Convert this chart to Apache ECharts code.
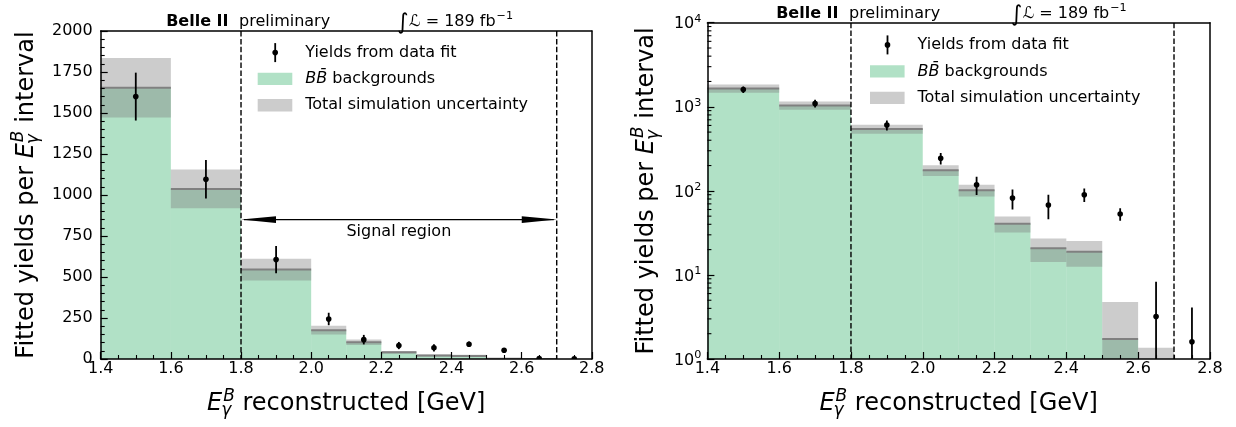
<!DOCTYPE html>
<html><head><meta charset="utf-8">
<script src="https://cdn.jsdelivr.net/npm/echarts@6/dist/echarts.min.js"></script>
<style>html,body{margin:0;padding:0;background:#fff;}#chart{width:1236px;height:427px;}</style>
</head><body><div id="chart"></div>
<script>
// ---------------- data ----------------
const binLow   = [1.4, 1.6, 1.8, 2.0, 2.1, 2.2, 2.3, 2.4, 2.5, 2.6];
const binHigh  = [1.6, 1.8, 2.0, 2.1, 2.2, 2.3, 2.4, 2.5, 2.6, 2.7];
const bbYield  = [1654, 1037, 545, 176, 102, 40.7, 20.7, 18.9, 1.73, 0.2];
const simUnc   = [181, 118, 67, 26, 16.5, 8.8, 6.5, 6.4, 3.03, 1.16];
const dataX    = [1.5, 1.7, 1.9, 2.05, 2.15, 2.25, 2.35, 2.45, 2.55, 2.65, 2.75];
const dataY    = [1600, 1096, 606, 244, 118, 82, 68, 90, 53, 3.2, 1.6];
const dataErr  = [146, 118, 83, 38, 29, 22, 22, 16.5, 9, 5.1, 2.5];
const signalRegion = [1.8, 2.7];
const xRange   = [1.4, 2.8];
const xStep    = 0.2;
const yLinRange = [0, 2000];
const yLinStep  = 250;
const yLogRange = [1, 10000];
const logMinorMantissa = [2, 3, 4, 5, 6, 7, 8, 9];
const logDecades = [1, 10, 100, 1000];
const legendLabels = ['Yields from data fit', 'BB\u0304', ' backgrounds', 'Total simulation uncertainty'];
const signalLabel = 'Signal region';
const experimentLabel = 'Belle II';
const statusLabel = 'preliminary';
const lumiValue = '189';

// ---------------- style ----------------
const FAM = '"DejaVu Sans"';
const GREEN = 'rgba(60,179,113,0.4)';
const GREY = 'rgba(128,128,128,0.4)';
const BBLINE = '#808080';
const ARROW_LEVEL = 850;
const LUMI_X = 2.245;
const GRIDS = [
  {left: 100.7, top: 31, width: 491.1, height: 328},
  {left: 707.4, top: 22.7, width: 502.5, height: 336.3}
];

const mctx = document.createElement('canvas').getContext('2d');
function tw(t, font) { mctx.font = font; return mctx.measureText(t).width; }
function txt(t, x, y, font, align) {
  return {type: 'text', x: x, y: y, style: {text: t, font: font, fill: '#000',
    align: align || 'left', verticalAlign: 'middle', textAlign: align || 'left', textVerticalAlign: 'middle'}};
}

const binItems = binLow.map((lo, i) => [lo, binHigh[i], bbYield[i], simUnc[i]]);
const pointItems = dataX.map((x, i) => [x, dataY[i], dataErr[i]]);
const minorLogItems = [];
logDecades.forEach(d => logMinorMantissa.forEach(m => minorLogItems.push([m * d])));

const clampFor = isLog => (v => isLog ? Math.max(v, 1e-3) : v);

function histRender(isLog) {
  const cl = clampFor(isLog);
  return (params, api) => {
    const lo = api.value(0), hi = api.value(1), bb = api.value(2), u = api.value(3);
    const xL = api.coord([lo, cl(bb)])[0], xR = api.coord([hi, cl(bb)])[0];
    const yBase = api.coord([lo, cl(0)])[1];
    const yBB = api.coord([lo, cl(bb)])[1];
    const yHi = api.coord([lo, cl(bb + u)])[1];
    const yLo = api.coord([lo, cl(bb - u)])[1];
    return {type: 'group', children: [
      {type: 'rect', shape: {x: xL, y: yBB, width: xR - xL, height: yBase - yBB}, style: {fill: GREEN}},
      {type: 'rect', shape: {x: xL, y: yHi, width: xR - xL, height: yLo - yHi}, style: {fill: GREY}},
      {type: 'line', shape: {x1: xL, y1: yBB, x2: xR, y2: yBB}, style: {stroke: BBLINE, lineWidth: 2}}
    ]};
  };
}
function errRender(isLog) {
  const cl = clampFor(isLog);
  return (params, api) => {
    const x = api.value(0), y = api.value(1), e = api.value(2);
    const p = api.coord([x, y]), t = api.coord([x, y + e]), b = api.coord([x, cl(y - e)]);
    return {type: 'group', children: [
      {type: 'line', shape: {x1: p[0], y1: b[1], x2: p[0], y2: t[1]}, style: {stroke: '#000', lineWidth: 1.8}},
      {type: 'circle', shape: {cx: p[0], cy: p[1], r: 2.8}, style: {fill: '#000'}}
    ]};
  };
}
function dashRender(yr) {
  return (params, api) => {
    const x = api.value(0);
    const a = api.coord([x, yr[1]]), b = api.coord([x, yr[0]]);
    return {type: 'line', shape: {x1: a[0], y1: a[1], x2: b[0], y2: b[1]},
      style: {stroke: '#000', lineWidth: 1.4, lineDash: [5.5, 2.4]}};
  };
}
function arrowRender(params, api) {
  const a = api.coord([api.value(0), api.value(2)]), b = api.coord([api.value(1), api.value(2)]);
  const L = 35, W = 3.4;
  return {type: 'group', children: [
    {type: 'line', shape: {x1: a[0] + 3, y1: a[1], x2: b[0] - 3, y2: b[1]}, style: {stroke: '#000', lineWidth: 1.3}},
    {type: 'polygon', shape: {points: [[a[0], a[1]], [a[0] + L, a[1] - W], [a[0] + L, a[1] + W]]}, style: {fill: '#000'}},
    {type: 'polygon', shape: {points: [[b[0], b[1]], [b[0] - L, b[1] - W], [b[0] - L, b[1] + W]]}, style: {fill: '#000'}},
    txt(signalLabel, (a[0] + b[0]) / 2, a[1] + 12, '16px ' + FAM, 'center')
  ]};
}
function topTextRender(yTop) {
  return (params, api) => {
    const p = api.coord([api.value(0), yTop]);
    const q = api.coord([api.value(1), yTop]);
    const ty = p[1] - 9;
    const F = '16px ' + FAM;
    const wI = tw('\u222B', '22px ' + FAM);
    const wC = tw('\u2112', 'italic 16px ' + FAM);
    const wN = tw(' = ' + lumiValue + ' fb', F);
    return {type: 'group', children: [
      txt(experimentLabel, p[0] - 12.5, ty, 'bold 16px ' + FAM, 'right'),
      txt(statusLabel, p[0] - 2, ty, F, 'left'),
      txt('\u222B', q[0], ty + 1.5, '22px ' + FAM, 'left'),
      txt('\u2112', q[0] + wI + 0.5, ty, 'italic 16px ' + FAM, 'left'),
      txt(' = ' + lumiValue + ' fb', q[0] + wI + 0.5 + wC, ty, F, 'left'),
      txt('\u22121', q[0] + wI + 0.5 + wC + wN + 1, ty - 5.5, '11.2px ' + FAM, 'left')
    ]};
  };
}
function minorLogRender(params, api) {
  const p = api.coord([xRange[0], api.value(0)]);
  return {type: 'line', shape: {x1: p[0], y1: p[1], x2: p[0] + 4, y2: p[1]}, style: {stroke: '#000', lineWidth: 1.1}};
}

function energyLabel(pre, post) {
  const F = '24px ' + FAM, FI = 'italic 24px ' + FAM, FS = 'italic 17px ' + FAM;
  const wPre = pre ? tw(pre, F) : 0, wE = tw('E', FI), wB = tw('B', FS), wG = tw('\u03B3', FS), wPost = tw(post, F);
  const wScript = Math.max(wB + 1, wG);
  const total = wPre + wE + wScript + wPost;
  let x = -total / 2;
  const kids = [];
  if (pre) { kids.push(txt(pre, x, 0, F)); x += wPre; }
  kids.push(txt('E', x, 0, FI)); x += wE;
  kids.push(txt('B', x + 1, -7.7, FS));
  kids.push(txt('\u03B3', x - 1, 7.1, FS));
  x += wScript;
  kids.push(txt(post, x, 0, F));
  return kids;
}

function legendEls(hx, y0, dy) {
  const F = '16px ' + FAM, FI = 'italic 16px ' + FAM;
  const tx = hx + 47.5, mx = hx + 17.5;
  const wBB = tw(legendLabels[1], FI);
  return [
    {type: 'line', shape: {x1: mx, y1: y0 - 9.5, x2: mx, y2: y0 + 9.5}, style: {stroke: '#000', lineWidth: 1.8}},
    {type: 'circle', shape: {cx: mx, cy: y0, r: 2.8}, style: {fill: '#000'}},
    txt(legendLabels[0], tx, y0, F),
    {type: 'rect', shape: {x: hx, y: y0 + dy - 6.2, width: 34.6, height: 12.4}, style: {fill: GREEN}},
    txt(legendLabels[1], tx, y0 + dy, FI),
    txt(legendLabels[2], tx + wBB, y0 + dy, F),
    {type: 'rect', shape: {x: hx, y: y0 + 2 * dy - 6.2, width: 34.6, height: 12.4}, style: {fill: GREY}},
    txt(legendLabels[3], tx, y0 + 2 * dy, F)
  ];
}

const axisCommon = {
  z: 10,
  axisLine: {show: true, onZero: false, lineStyle: {color: '#000', width: 1.5}},
  splitLine: {show: false},
  axisLabel: {color: '#000', fontSize: 16, fontFamily: 'DejaVu Sans', showMinLabel: true, showMaxLabel: true}
};
function xAxes(gi) {
  return [
    Object.assign({}, axisCommon, {gridIndex: gi, type: 'value', position: 'bottom', min: xRange[0], max: xRange[1], interval: xStep,
      axisTick: {show: true, inside: true, length: 7, lineStyle: {color: '#000', width: 1.2}},
      minorTick: {show: true, splitNumber: 4, length: 4, lineStyle: {color: '#000', width: 1.1}},
      axisLabel: Object.assign({}, axisCommon.axisLabel, {margin: 2, formatter: v => v.toFixed(1)})}),
    Object.assign({}, axisCommon, {gridIndex: gi, type: 'value', position: 'top', min: xRange[0], max: xRange[1],
      axisTick: {show: false}, axisLabel: {show: false}})
  ];
}

const option = {
  animation: false,
  backgroundColor: '#fff',
  grid: GRIDS.map(g => Object.assign({containLabel: false, outerBoundsMode: 'none'}, g)),
  xAxis: xAxes(0).concat(xAxes(1)),
  yAxis: [
    Object.assign({}, axisCommon, {gridIndex: 0, type: 'value', position: 'left', min: yLinRange[0], max: yLinRange[1], interval: yLinStep,
      axisTick: {show: true, inside: true, length: 7, lineStyle: {color: '#000', width: 1.2}},
      minorTick: {show: true, splitNumber: 5, length: 4, lineStyle: {color: '#000', width: 1.1}},
      axisLabel: Object.assign({}, axisCommon.axisLabel, {margin: 8, formatter: v => String(Math.round(v))})}),
    Object.assign({}, axisCommon, {gridIndex: 0, type: 'value', position: 'right', min: yLinRange[0], max: yLinRange[1],
      axisTick: {show: false}, axisLabel: {show: false}}),
    Object.assign({}, axisCommon, {gridIndex: 1, type: 'log', logBase: 10, position: 'left', min: yLogRange[0], max: yLogRange[1],
      axisTick: {show: true, inside: true, length: 7, lineStyle: {color: '#000', width: 1.2}},
      axisLabel: Object.assign({}, axisCommon.axisLabel, {margin: 6,
        formatter: v => '{b|10}{s|' + Math.round(Math.log10(v)) + '}',
        rich: {b: {fontSize: 16, fontFamily: 'DejaVu Sans', color: '#000', verticalAlign: 'bottom'},
               s: {fontSize: 11.2, fontFamily: 'DejaVu Sans', color: '#000', verticalAlign: 'bottom', padding: [0, 0, 8, 0]}}})}),
    Object.assign({}, axisCommon, {gridIndex: 1, type: 'log', logBase: 10, position: 'right', min: yLogRange[0], max: yLogRange[1],
      axisTick: {show: false}, axisLabel: {show: false}})
  ],
  series: [
    {type: 'custom', xAxisIndex: 0, yAxisIndex: 0, z: 2, clip: true, renderItem: histRender(false), data: binItems, encode: {x: [0, 1], y: [2]}},
    {type: 'custom', xAxisIndex: 0, yAxisIndex: 0, z: 3, clip: true, renderItem: dashRender(yLinRange), data: signalRegion.map(v => [v]), encode: {x: 0}},
    {type: 'custom', xAxisIndex: 0, yAxisIndex: 0, z: 3, renderItem: arrowRender, data: [[signalRegion[0], signalRegion[1], ARROW_LEVEL]], encode: {x: [0, 1], y: 2}},
    {type: 'custom', xAxisIndex: 0, yAxisIndex: 0, z: 4, clip: true, renderItem: errRender(false), data: pointItems, encode: {x: 0, y: 1}},
    {type: 'custom', xAxisIndex: 0, yAxisIndex: 0, z: 4, renderItem: topTextRender(yLinRange[1]), data: [[signalRegion[0], LUMI_X]], encode: {x: [0, 1]}},

    {type: 'custom', xAxisIndex: 2, yAxisIndex: 2, z: 2, clip: true, renderItem: histRender(true), data: binItems, encode: {x: [0, 1], y: [2]}},
    {type: 'custom', xAxisIndex: 2, yAxisIndex: 2, z: 3, clip: true, renderItem: dashRender(yLogRange), data: signalRegion.map(v => [v]), encode: {x: 0}},
    {type: 'custom', xAxisIndex: 2, yAxisIndex: 2, z: 4, clip: true, renderItem: errRender(true), data: pointItems, encode: {x: 0, y: 1}},
    {type: 'custom', xAxisIndex: 2, yAxisIndex: 2, z: 4, renderItem: topTextRender(yLogRange[1]), data: [[signalRegion[0], LUMI_X]], encode: {x: [0, 1]}},
    {type: 'custom', xAxisIndex: 2, yAxisIndex: 2, z: 11, renderItem: minorLogRender, data: minorLogItems, encode: {y: 0}}
  ],
  graphic: {elements: [
    {type: 'group', x: 346.2, y: 403.8, children: energyLabel('', ' reconstructed [GeV]')},
    {type: 'group', x: 958.6, y: 403.8, children: energyLabel('', ' reconstructed [GeV]')},
    {type: 'group', x: 26.6, y: 195, rotation: Math.PI / 2, children: energyLabel('Fitted yields per ', ' interval')},
    {type: 'group', x: 646.6, y: 190.9, rotation: Math.PI / 2, children: energyLabel('Fitted yields per ', ' interval')},
    {type: 'group', children: legendEls(257.7, 52.6, 26.3)},
    {type: 'group', children: legendEls(870, 44.9, 26.5)}
  ]}
};

const chart = echarts.init(document.getElementById('chart'), null, {renderer: 'canvas', width: 1236, height: 427});
chart.setOption(option);
</script>
</body></html>
